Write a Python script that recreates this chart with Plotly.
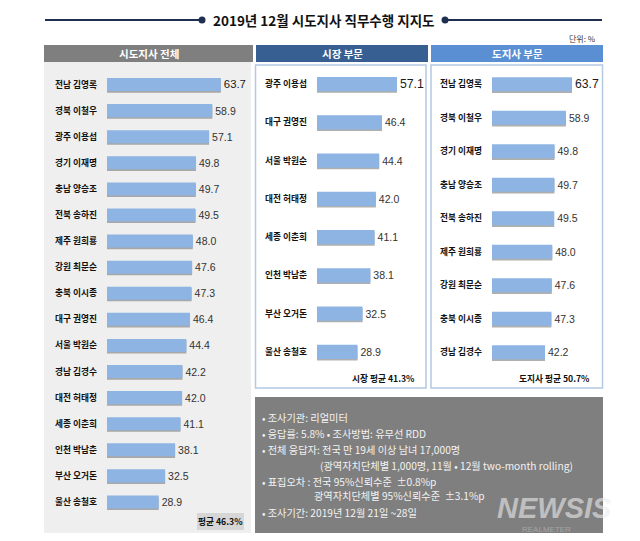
import plotly.graph_objects as go

W, H = 640, 541

# ---------------- data ----------------
all_names = ["전남 김영록", "경북 이철우", "광주 이용섭", "경기 이재명", "충남 양승조", "전북 송하진",
             "제주 원희룡", "강원 최문순", "충북 이시종", "대구 권영진", "서울 박원순", "경남 김경수",
             "대전 허태정", "세종 이춘희", "인천 박남춘", "부산 오거돈", "울산 송철호"]
all_vals = [63.7, 58.9, 57.1, 49.8, 49.7, 49.5, 48.0, 47.6, 47.3, 46.4, 44.4, 42.2, 42.0, 41.1, 38.1, 32.5, 28.9]

mayor_names = ["광주 이용섭", "대구 권영진", "서울 박원순", "대전 허태정", "세종 이춘희", "인천 박남춘",
               "부산 오거돈", "울산 송철호"]
mayor_vals = [57.1, 46.4, 44.4, 42.0, 41.1, 38.1, 32.5, 28.9]

gov_names = ["전남 김영록", "경북 이철우", "경기 이재명", "충남 양승조", "전북 송하진", "제주 원희룡",
             "강원 최문순", "충북 이시종", "경남 김경수"]
gov_vals = [63.7, 58.9, 49.8, 49.7, 49.5, 48.0, 47.6, 47.3, 42.2]

panel_titles = ["시도지사 전체", "시장 부문", "도지사 부문"]
avg_labels = ["평균 46.3%", "시장 평균 41.3%", "도지사 평균 50.7%"]
title_text = "2019년 12월 시도지사 직무수행 지지도"
unit_text = "단위: %"
note_lines = [
    "• 조사기관: 리얼미터",
    "• 응답률: 5.8% • 조사방법: 유무선 RDD",
    "• 전체 응답자: 전국 만 19세 이상 남녀 17,000명",
    "(광역자치단체별 1,000명, 11월 • 12월 two-month rolling)",
    "• 표집오차 : 전국 95%신뢰수준  ±0.8%p",
    "광역자치단체별 95%신뢰수준  ±3.1%p",
    "• 조사기간: 2019년 12월 21일 ~28일",
]

# ---------------- helpers ----------------
def px(x):
    return x / W

def py(y):
    return 1 - y / H

KR = "Noto Sans CJK KR"
NUM = "Liberation Sans, Arial, sans-serif"
BAR = "#8db4e2"
SHADOW = "rgba(110,110,110,0.55)"

fig = go.Figure()

panels = [
    # names, vals, axis suffix, x domain px, x range, y top/bottom px, bar frac
    (all_names, all_vals, "", (107, 250), 80.0, (71.5, 515.0), 0.5),
    (mayor_names, mayor_vals, "2", (317, 425), 77.1, (65.0, 371.0), 0.37),
    (gov_names, gov_vals, "3", (492, 602), 87.6, (67.5, 369.0), 0.42),
]

for names, vals, sfx, xd, xr, yd, frac in panels:
    n = len(names)
    spacing_px = (yd[1] - yd[0]) / n
    shadow_shift = 1.6 / spacing_px
    sizes = [13] + [10.5] * (n - 1)
    colors = ["#1a1a1a"] + ["#333333"] * (n - 1)
    # shadow
    fig.add_trace(go.Bar(
        x=vals, y=names, orientation="h",
        xaxis="x" + sfx, yaxis="y" + sfx,
        marker=dict(color=SHADOW, line=dict(width=0)),
        width=frac, offset=-frac / 2 + shadow_shift,
        hoverinfo="skip", showlegend=False,
    ))
    # main bars
    fig.add_trace(go.Bar(
        x=vals, y=names, orientation="h",
        xaxis="x" + sfx, yaxis="y" + sfx,
        marker=dict(color=BAR, line=dict(width=0)),
        width=frac, offset=-frac / 2,
        text=vals, texttemplate="%{x:.1f}", textposition="outside",
        textfont=dict(family=NUM, size=sizes, color=colors),
        cliponaxis=False, showlegend=False,
    ))
    xa = dict(domain=[px(xd[0]), px(xd[1])], range=[0, xr], visible=False,
              anchor="y" + sfx, fixedrange=True)
    ya = dict(domain=[py(yd[1]), py(yd[0])], type="category",
              categoryorder="array", categoryarray=names,
              range=[n - 0.5, -0.5], anchor="x" + sfx,
              showgrid=False, zeroline=False, showline=False, ticks="",
              ticklabelstandoff=9,
              tickfont=dict(family=KR, size=8.7, color="#111111", weight="bold"))
    fig.layout["xaxis" + sfx] = xa
    fig.layout["yaxis" + sfx] = ya

shapes = []
# title decoration lines + dots
navy = "#1f2f4f"
shapes.append(dict(type="line", xref="paper", yref="paper", x0=px(45), x1=px(202), y0=py(20), y1=py(20),
                   line=dict(color=navy, width=2)))
shapes.append(dict(type="line", xref="paper", yref="paper", x0=px(445), x1=px(602), y0=py(20), y1=py(20),
                   line=dict(color=navy, width=2)))
for cx in (202, 445):
    shapes.append(dict(type="circle", xref="paper", yref="paper", x0=px(cx - 3.5), x1=px(cx + 3.5),
                       y0=py(23.5), y1=py(16.5), fillcolor=navy, line=dict(width=0)))

# panel 1 body (light gray)
shapes.append(dict(type="rect", xref="paper", yref="paper", x0=px(44), x1=px(251), y0=py(533), y1=py(62),
                   fillcolor="#efefef", line=dict(width=0), layer="below"))
# panel 2/3 bodies with light-blue frame
for x0, x1 in ((255.5, 426), (431, 602.5)):
    shapes.append(dict(type="rect", xref="paper", yref="paper", x0=px(x0), x1=px(x1), y0=py(388), y1=py(65),
                       fillcolor="white", line=dict(color="#b4c9e3", width=1.5), layer="below"))
# headers
hdr = [((44, 253), "#7f7f7f"), ((256, 428), "#375f91"), ((431, 603), "#5a8fd4")]
for (x0, x1), col in hdr:
    shapes.append(dict(type="rect", xref="paper", yref="paper", x0=px(x0), x1=px(x1), y0=py(62), y1=py(45),
                       fillcolor=col, line=dict(width=0), layer="below"))
# average box for panel 1
shapes.append(dict(type="rect", xref="paper", yref="paper", x0=px(197), x1=px(244), y0=py(530), y1=py(513),
                   fillcolor="#d6d6d6", line=dict(width=0), layer="below"))
# note box
shapes.append(dict(type="rect", xref="paper", yref="paper", x0=px(255), x1=px(603), y0=py(533), y1=py(397),
                   fillcolor="#7f7f7f", line=dict(width=0), layer="below"))
fig.update_layout(shapes=shapes)

ann = []
ann.append(dict(text=title_text, x=px(324), y=py(20), xref="paper", yref="paper", showarrow=False,
                xanchor="center", yanchor="middle",
                font=dict(family=KR, size=13.5, color="#111111", weight="bold")))
ann.append(dict(text=unit_text, x=px(598), y=py(38), xref="paper", yref="paper", showarrow=False,
                xanchor="right", yanchor="middle", font=dict(family=KR, size=8, color="#333333")))
hdr_centers = [148.5, 342, 517]
for t, cx in zip(panel_titles, hdr_centers):
    ann.append(dict(text=t, x=px(cx), y=py(53.5), xref="paper", yref="paper", showarrow=False,
                    xanchor="center", yanchor="middle",
                    font=dict(family=KR, size=10.5, color="white", weight="bold")))
avg_pos = [(220.5, 521.5, "center"), (417, 378, "right"), (592, 378, "right")]
for t, (x, y, anc) in zip(avg_labels, avg_pos):
    ann.append(dict(text=t, x=px(x), y=py(y), xref="paper", yref="paper", showarrow=False,
                    xanchor=anc, yanchor="middle",
                    font=dict(family=KR, size=8.7, color="#111111", weight="bold")))
note_pos = [(260, 417), (260, 433), (260, 449), (318, 465), (260, 481), (312, 496), (260, 512)]
for t, (x, y) in zip(note_lines, note_pos):
    ann.append(dict(text=t, x=px(x), y=py(y), xref="paper", yref="paper", showarrow=False,
                    xanchor="left", yanchor="middle",
                    font=dict(family=KR, size=10.2, color="#f2f2f2")))
# watermark (NEWSIS over faint REALMETER)
ann.append(dict(text="NEWSIS", x=px(554), y=py(508), xref="paper", yref="paper", showarrow=False,
                xanchor="center", yanchor="middle",
                font=dict(family=NUM, size=29, color="rgba(235,235,235,0.6)", weight="bold", style="italic")))
ann.append(dict(text="REALMETER", x=px(546), y=py(529), xref="paper", yref="paper", showarrow=False,
                xanchor="center", yanchor="middle",
                font=dict(family=NUM, size=8, color="rgba(255,255,255,0.3)")))
fig.update_layout(annotations=ann)

fig.update_layout(
    width=W, height=H, margin=dict(l=0, r=0, t=0, b=0),
    paper_bgcolor="white", plot_bgcolor="rgba(0,0,0,0)",
    barmode="overlay", showlegend=False,
    font=dict(family=KR),
)

fig.write_html("out.html", config={"displayModeBar": False},
               post_script="document.body.style.margin='0';document.body.style.overflow='hidden';")
